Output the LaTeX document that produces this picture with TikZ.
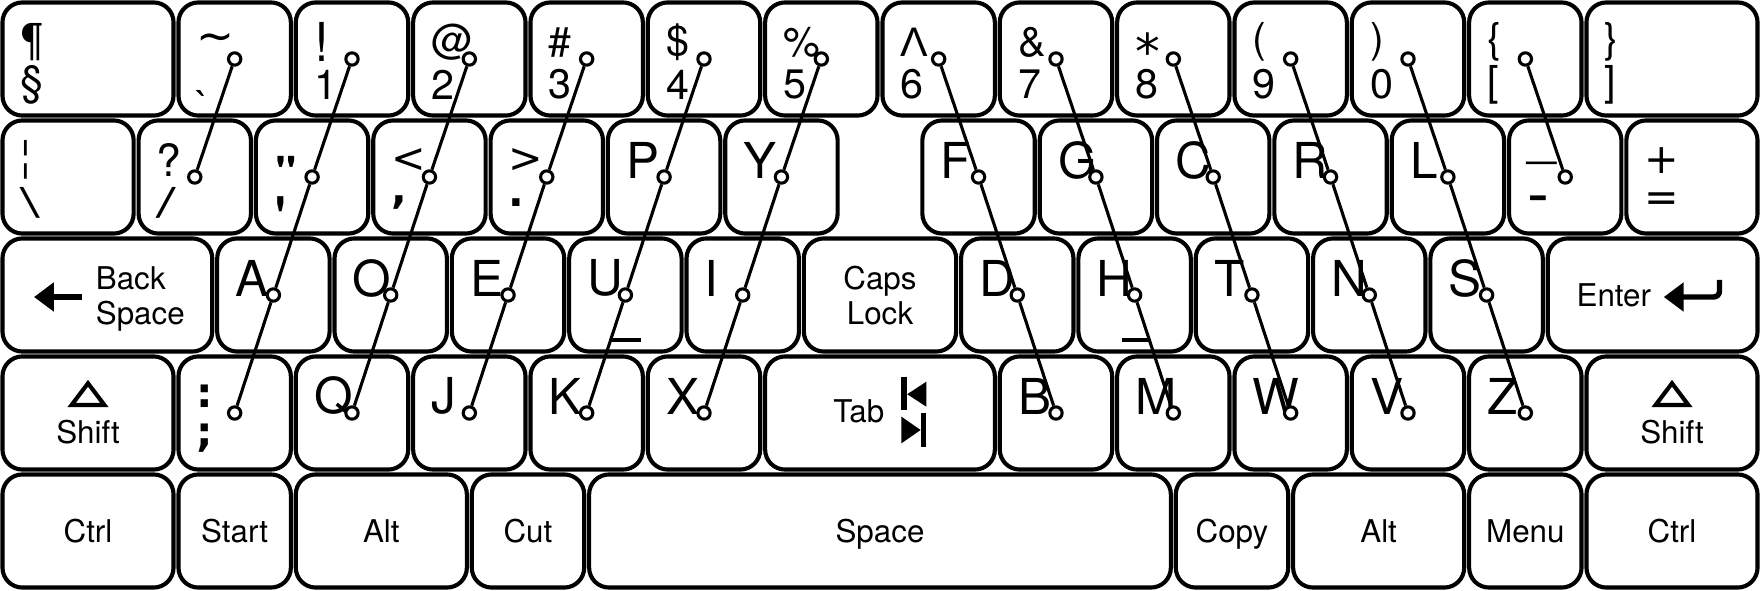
\documentclass[tikz,border=0pt]{standalone}
\usepackage{fontspec}
\newfontfamily\keyfont{TeX Gyre Heros}
\newfontfamily\grkfont{Liberation Sans}
\newfontfamily\dvfont{DejaVu Sans}
\usepackage{tikz}
\usetikzlibrary{calc, arrows.meta, positioning}

% Hạ ký tự xuống mà không đổi kích thước hộp
\newcommand{\shiftdn}[2]{\raisebox{-#1}[\height][\depth]{#2}}
% Cỡ chữ riêng cho một ký hiệu
\newcommand{\gsz}[2]{{\fontsize{#1}{#1}\selectfont #2}}

\tikzset{
    keybox/.style={draw, line width=1pt, rounded corners=0.17cm, minimum height=0.964cm, inner sep=0pt, outer sep=0pt},
    dual/.style={anchor=west, inner sep=0pt, font=\keyfont\fontsize{10}{12}\selectfont},
    letter/.style={anchor=west, inner sep=0pt, font=\keyfont\fontsize{12}{14}\selectfont},
    keytxt/.style={anchor=base, inner sep=0pt, font=\keyfont\fontsize{7.6}{9}\selectfont},
    dot/.style={circle, draw, fill=white, line width=0.75pt, minimum size=0.105cm, inner sep=0pt},
    wire/.style={line width=0.75pt},
    bump/.style={line width=1pt},
    bold arrow/.style={line width=1.3pt, -{Triangle[length=0.17cm, width=0.24cm]}}
}

\begin{document}
\begin{tikzpicture}
    \useasboundingbox (0,0) rectangle (15,-5.0286);

    % Hàng 1: phím số và ký hiệu
    \foreach \nm/\x/\w/\up/\lo in {para/0/1.5/¶/§, tilde/1.5/1/{\dvfont\gsz{11}{\textasciitilde}}/{\shiftdn{0.18cm}{`}}, 1/2.5/1/{\gsz{13}{!}}/1, 2/3.5/1/@/2, 3/4.5/1/\#/3, 4/5.5/1/\$/4, 5/6.5/1/\%/5, 6/7.5/1/{\grkfont Λ}/6, 7/8.5/1/\&/7, 8/9.5/1/{\shiftdn{0.08cm}{\dvfont\gsz{12}{*}}}/8, 9/10.5/1/{(}/9, 0/11.5/1/{)}/0, brace/12.5/1/\{/{[}, rbrace/13.5/1.5/\}/{]}}{
        \node[keybox, minimum width={(\w-0.042)*1cm}] (k-\nm) at (\x+\w/2, -0.5029) {};
        \node[dual] (u-\nm) at ([shift={(0.149,-0.339)}]k-\nm.north west) {\up};
        \node[dual] (l-\nm) at ([shift={(0.149,-0.699)}]k-\nm.north west) {\lo};
    }

    % Hàng 2, 4: phím hai ký tự
    \foreach \nm/\x/\w/\y/\up/\lo in {bar/0/1.16/-1.5086/¦/{\scalebox{1.7}[1]{\textbackslash}}, quest/1.16/1/-1.5086/{\gsz{10.8}{?}}/{\scalebox{1.7}[1]{/}}, quote/2.16/1/-1.5086/{\shiftdn{0.10cm}{\scalebox{1.6}[1.1]{"}}}/{\shiftdn{0.14cm}{\scalebox{1.6}[1.5]{'}}}, lt/3.16/1/-1.5086/{\dvfont <}/{\dvfont\bfseries ,}, gt/4.16/1/-1.5086/{\dvfont >}/{\dvfont\bfseries .}, minus/12.84/1/-1.5086/{\gsz{12.5}{\_}}/{\shiftdn{0.035cm}{\gsz{16}{-}}}, plus/13.84/1.16/-1.5086/{\dvfont +}/{\dvfont =}, semi/1.5/1/-3.52/{\dvfont\bfseries :}/{\dvfont\bfseries ;}}{
        \node[keybox, minimum width={(\w-0.042)*1cm}] (k-\nm) at (\x+\w/2, \y) {};
        \node[dual] (u-\nm) at ([shift={(0.149,-0.339)}]k-\nm.north west) {\up};
        \node[dual] (l-\nm) at ([shift={(0.149,-0.699)}]k-\nm.north west) {\lo};
    }

    % Phím chữ cái
    \foreach \nm/\x/\y in {P/5.16/-1.5086, Y/6.16/-1.5086, F/7.84/-1.5086, G/8.84/-1.5086, C/9.84/-1.5086, R/10.84/-1.5086, L/11.84/-1.5086,
        A/1.83/-2.5143, O/2.83/-2.5143, E/3.83/-2.5143, U/4.83/-2.5143, I/5.83/-2.5143, D/8.17/-2.5143, H/9.17/-2.5143, T/10.17/-2.5143, N/11.17/-2.5143, S/12.17/-2.5143,
        Q/2.5/-3.52, J/3.5/-3.52, K/4.5/-3.52, X/5.5/-3.52, B/8.5/-3.52, M/9.5/-3.52, W/10.5/-3.52, V/11.5/-3.52, Z/12.5/-3.52}{
        \node[keybox, minimum width=0.958cm] (k-\nm) at (\x+0.5, \y) {};
        \node[letter] (t-\nm) at ([shift={(0.149,-0.339)}]k-\nm.north west) {\nm};
    }

    % Gờ đánh dấu trên U và H
    \foreach \nm in {U, H}
        \draw[bump] ([shift={(-0.11,-0.382)}]k-\nm.center) -- ([shift={(0.13,-0.382)}]k-\nm.center);

    % Back Space
    \node[keybox, minimum width=1.788cm] (k-bksp) at (0.915,-2.5143) {};
    \draw[bold arrow] ([shift={(-0.215,-0.017)}]k-bksp.center) -- ([shift={(-0.625,-0.017)}]k-bksp.center);
    \node[keytxt, anchor=base west] (t-back) at ([shift={(-0.105,0.048)}]k-bksp.center) {Back};
    \node[keytxt, anchor=base west] (t-bspace) at ([shift={(-0.105,-0.252)}]k-bksp.center) {Space};

    % Caps Lock
    \node[keybox, minimum width=1.298cm] (k-caps) at (7.5,-2.5143) {};
    \node[keytxt] (t-caps) at ([yshift=0.048cm]k-caps.center) {Caps};
    \node[keytxt] (t-lock) at ([yshift=-0.252cm]k-caps.center) {Lock};

    % Enter
    \node[keybox, minimum width=1.788cm] (k-enter) at (14.085,-2.5143) {};
    \node[keytxt, anchor=base west] (t-enter) at ([shift={(-0.655,-0.102)}]k-enter.center) {Enter};
    \draw[bold arrow, rounded corners=0.05cm] ([shift={(0.57,0.128)}]k-enter.center) -- ([shift={(0.57,-0.017)}]k-enter.center) -- ([shift={(0.095,-0.017)}]k-enter.center);

    % Shift hai bên
    \foreach \nm/\x in {lshift/0, rshift/13.5}{
        \node[keybox, minimum width=1.458cm] (k-\nm) at (\x+0.75,-3.52) {};
        \draw[line width=1pt] ([yshift=0.253cm]k-\nm.center) -- ([shift={(0.14,0.068)}]k-\nm.center) -- ([shift={(-0.14,0.068)}]k-\nm.center) -- cycle;
        \node[keytxt] (t-\nm) at ([yshift=-0.257cm]k-\nm.center) {Shift};
    }

    % Tab
    \node[keybox, minimum width=1.958cm] (k-tab) at (7.5,-3.52) {};
    \node[keytxt] (t-tab) at ([shift={(-0.18,-0.085)}]k-tab.center) {Tab};
    \begin{scope}[shift={(k-tab.center)}]
        \draw[line width=1.4pt] (0.207,0.31) -- (0.207,0.026);
        \fill (0.232,0.16) -- (0.395,0.267) -- (0.395,0.054) -- cycle;
        \fill (0.183,-0.031) -- (0.346,-0.145) -- (0.183,-0.258) -- cycle;
        \draw[line width=1.4pt] (0.371,0.003) -- (0.371,-0.287);
    \end{scope}

    % Hàng 5: phím điều khiển
    \foreach \nm/\x/\w/\txt in {lctrl/0/1.5/Ctrl, start/1.5/1/Start, lalt/2.5/1.5/Alt, cut/4/1/Cut, space/5/5/Space, copy/10/1/Copy, ralt/11/1.5/Alt, menu/12.5/1/Menu, rctrl/13.5/1.5/Ctrl}{
        \node[keybox, minimum width={(\w-0.042)*1cm}] (k-\nm) at (\x+\w/2, -4.5257) {};
        \node[keytxt] (t-\nm) at ([yshift=-0.097cm]k-\nm.center) {\txt};
    }

    % Chấm tròn ở tâm phím
    \foreach \nm in {tilde, 1, 2, 3, 4, 5, 6, 7, 8, 9, 0, brace, quest, quote, lt, gt, P, Y, F, G, C, R, L, minus, A, O, E, U, I, D, H, T, N, S, semi, Q, J, K, X, B, M, W, V, Z}
        \node[dot] (d-\nm) at (k-\nm) {};

    % Đường nối theo cột ngón tay
    \foreach \a/\b in {tilde/quest, 1/quote, quote/A, A/semi, 2/lt, lt/O, O/Q, 3/gt, gt/E, E/J, 4/P, P/U, U/K, 5/Y, Y/I, I/X, 6/F, F/D, D/B, 7/G, G/H, H/M, 8/C, C/T, T/W, 9/R, R/N, N/V, 0/L, L/S, S/Z, brace/minus}
        \draw[wire] (d-\a) -- (d-\b);
\end{tikzpicture}
\end{document}
